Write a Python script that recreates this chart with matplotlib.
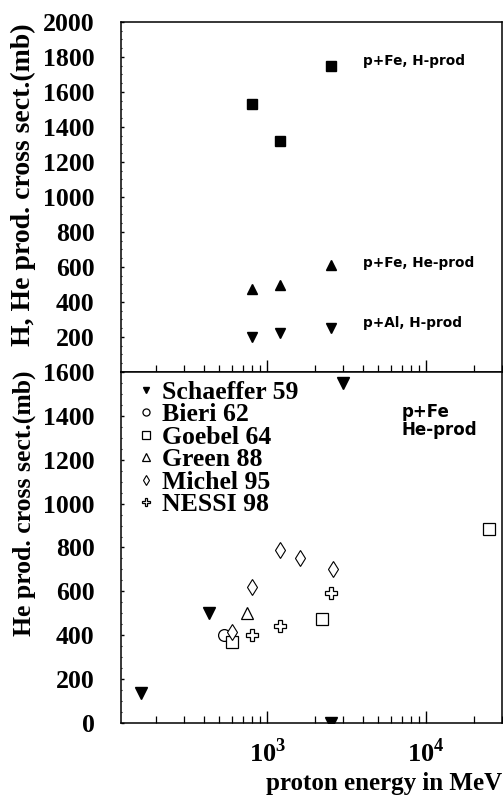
import matplotlib
matplotlib.use('Agg')
import matplotlib.pyplot as plt
from matplotlib.ticker import FixedLocator, MultipleLocator, LogLocator, NullFormatter, FixedFormatter

# Fonts: bold Times-like for the axes, a plain sans for the in-plot notes
plt.rcParams['font.family'] = ['Liberation Serif', 'DejaVu Sans']
plt.rcParams['font.weight'] = 'bold'
plt.rcParams['mathtext.fontset'] = 'custom'
plt.rcParams['mathtext.rm'] = 'Liberation Serif:bold'
plt.rcParams['mathtext.bf'] = 'Liberation Serif:bold'
plt.rcParams['axes.linewidth'] = 1.1

# Top panel: H and He production cross sections (mb)
energy_top = [800, 1200, 2500]
fe_h_prod = [1530, 1320, 1750]
fe_he_prod = [475, 495, 610]
al_h_prod = [200, 225, 250]
top_labels = ['p+Fe, H-prod', 'p+Fe, He-prod', 'p+Al, H-prod']

# Bottom panel: p+Fe He production, experimental data
schaeffer_e = [160, 430, 2500, 3000]
schaeffer_v = [135, 500, 0, 1550]
bieri_e = [530]
bieri_v = [400]
goebel_e = [600, 2200, 25000]
goebel_v = [370, 475, 885]
green_e = [740]
green_v = [500]
michel_e = [600, 800, 1200, 1600, 2600]
michel_v = [415, 620, 790, 750, 700]
nessi_e = [800, 1200, 2500]
nessi_v = [400, 440, 593]

fig = plt.figure(figsize=(5.03, 7.96), dpi=100)
ax1 = fig.add_axes([0.2406, 0.5327, 0.7574, 0.4397])
ax2 = fig.add_axes([0.2406, 0.0917, 0.7574, 0.4410])

for ax in (ax1, ax2):
    ax.set_xscale('log')
    ax.set_xlim(120, 30000)
    ax.xaxis.set_major_locator(FixedLocator([1e3, 1e4]))
    ax.xaxis.set_minor_locator(LogLocator(base=10, subs=range(2, 10), numticks=20))
    ax.xaxis.set_minor_formatter(NullFormatter())
    ax.tick_params(axis='x', which='major', direction='in', length=8.5, width=1.0,
                   top=False, bottom=True)
    ax.tick_params(axis='x', which='minor', direction='in', length=5, width=0.9,
                   top=False, bottom=True)
    ax.tick_params(axis='y', which='major', direction='in', length=2, width=1.0,
                   right=False, labelsize=18.5, pad=19)
    ax.tick_params(axis='y', which='minor', direction='in', length=1, width=0.8, right=False)
    ax.yaxis.set_minor_locator(MultipleLocator(50))

# ---- top panel
ax1.plot(energy_top, fe_h_prod, 's', color='black', markersize=7.5)
ax1.plot(energy_top, fe_he_prod, '^', color='black', markersize=7.5)
ax1.plot(energy_top, al_h_prod, 'v', color='black', markersize=7.5)
ax1.set_ylim(0, 2000)
ax1.yaxis.set_major_locator(FixedLocator(range(200, 2001, 200)))
ax1.xaxis.set_major_formatter(NullFormatter())
for yv, txt in zip([1775, 625, 282], top_labels):
    ax1.text(4000, yv, txt, family='DejaVu Sans', fontweight='bold', fontsize=9.8,
             ha='left', va='center')
ax1.set_ylabel('H, He prod. cross sect.(mb)', fontsize=20, fontweight='bold')
ax1.yaxis.set_label_coords(-0.223, 0.534)

# ---- bottom panel
ax2.plot(schaeffer_e, schaeffer_v, 'v', color='black', markersize=8, label='Schaeffer 59')
ax2.plot(bieri_e, bieri_v, 'o', mfc='white', mec='black', mew=0.9, markersize=8.5,
         label='Bieri 62')
ax2.plot(goebel_e, goebel_v, 's', mfc='white', mec='black', mew=0.9, markersize=8.5,
         label='Goebel 64')
ax2.plot(green_e, green_v, '^', mfc='white', mec='black', mew=0.9, markersize=9,
         label='Green 88')
ax2.plot(michel_e, michel_v, 'd', mfc='white', mec='black', mew=0.8, markersize=8,
         label='Michel 95')
ax2.plot(nessi_e, nessi_v, 'P', mfc='white', mec='black', mew=0.9, markersize=9,
         label='NESSI 98')
ax2.set_ylim(0, 1600)
ax2.yaxis.set_major_locator(MultipleLocator(200))
ax2.xaxis.set_major_formatter(FixedFormatter([r'$10^{3}$', r'$10^{4}$']))
ax2.tick_params(axis='x', which='major', labelsize=19, pad=11)
ax2.text(7000, 1378, 'p+Fe\nHe-prod', family='DejaVu Sans', fontweight='bold',
         fontsize=12, ha='left', va='center', linespacing=1.0)
ax2.legend(loc='upper left', bbox_to_anchor=(0.024, 1.0), frameon=False,
           markerscale=0.6, handlelength=0.5, handletextpad=0.4, labelspacing=-0.02,
           borderaxespad=0.2, borderpad=0.15,
           prop={'family': 'Liberation Serif', 'weight': 'bold', 'size': 18.5})
ax2.set_ylabel('He prod. cross sect.(mb)', fontsize=18.5, fontweight='bold')
ax2.yaxis.set_label_coords(-0.223, 0.626)
ax2.set_xlabel('proton energy in MeV', fontsize=18, fontweight='bold', loc='right')
ax2.xaxis.set_label_coords(1.0, -0.14)

fig.savefig('out.png', dpi=100)
